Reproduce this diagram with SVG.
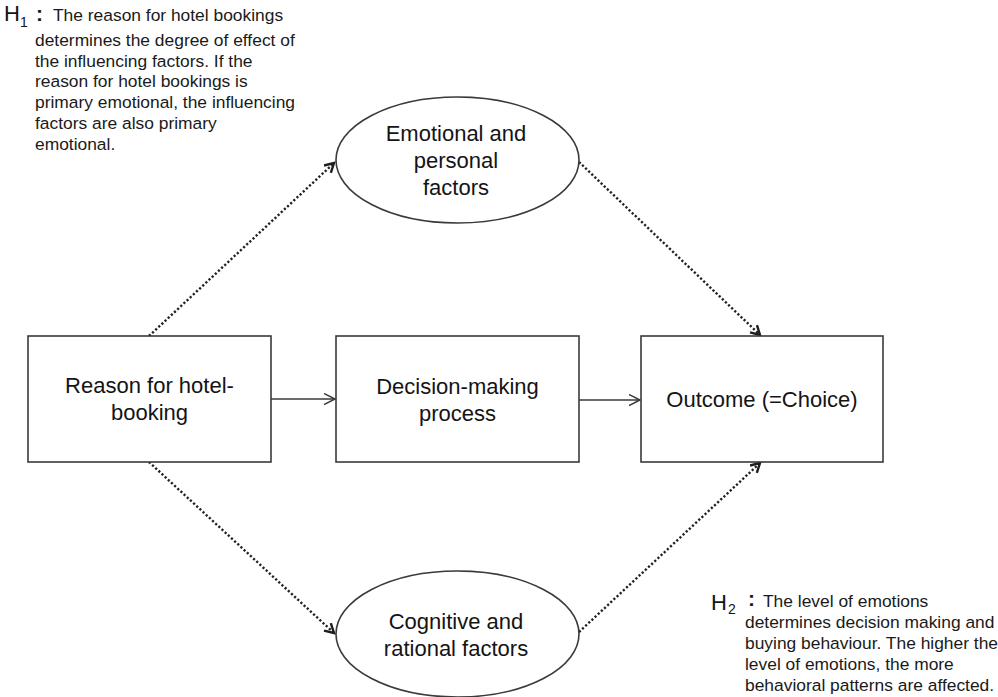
<svg xmlns="http://www.w3.org/2000/svg" width="998" height="697" viewBox="0 0 998 697">
  <defs>
    <style>
      .box { fill: #ffffff; stroke: #3a3a3a; stroke-width: 1.6; }
      .label { font-family: "Liberation Sans", Arial, sans-serif; font-size: 22px; fill: #141414; text-anchor: middle; }
      .note { font-family: "Liberation Sans", Arial, sans-serif; font-size: 17.4px; fill: #1a1a1a; }
      .hyp { font-family: "Liberation Sans", Arial, sans-serif; font-size: 22px; fill: #141414; }
      .sub { font-family: "Liberation Sans", Arial, sans-serif; font-size: 14px; fill: #141414; }
      .colon { font-family: "Liberation Sans", "Noto Sans CJK SC", sans-serif; font-size: 21px; font-weight: bold; fill: #141414; }
      .solid { fill: none; stroke: #3a3a3a; stroke-width: 1.5; marker-end: url(#chev); }
      .dotted { fill: none; stroke: #222222; stroke-width: 2.4; stroke-dasharray: 2.2 2.1; marker-end: url(#chevBold); }
    </style>
    <marker id="chev" markerUnits="userSpaceOnUse" markerWidth="14" markerHeight="14" refX="11" refY="6" orient="auto">
      <path d="M0,0.5 L11,6 L0,11.5" fill="none" stroke="#3a3a3a" stroke-width="1.5"/>
    </marker>
    <marker id="chevBold" markerUnits="userSpaceOnUse" markerWidth="14" markerHeight="14" refX="10" refY="6" orient="auto">
      <path d="M1,1 L10,6 L1,11" fill="none" stroke="#1e1e1e" stroke-width="2.4"/>
    </marker>
  </defs>

  <rect width="998" height="697" fill="#ffffff"/>

  <!-- connectors -->
  <g id="connectors">
    <line class="solid" x1="271" y1="399" x2="335" y2="399"/>
    <line class="solid" x1="579" y1="400" x2="640" y2="400"/>
    <line class="dotted" x1="149" y1="336" x2="334" y2="163"/>
    <line class="dotted" x1="579" y1="162" x2="760" y2="335"/>
    <line class="dotted" x1="149" y1="462" x2="334" y2="633"/>
    <line class="dotted" x1="579" y1="632" x2="760" y2="463"/>
  </g>

  <!-- boxes -->
  <g id="reason">
    <rect class="box" x="28" y="336" width="243" height="126"/>
    <text class="label" x="149.5" y="393">Reason for hotel-</text>
    <text class="label" x="149.5" y="420">booking</text>
  </g>
  <g id="decision">
    <rect class="box" x="336" y="336" width="243" height="126"/>
    <text class="label" x="457.5" y="394">Decision-making</text>
    <text class="label" x="457.5" y="421">process</text>
  </g>
  <g id="outcome">
    <rect class="box" x="641" y="336" width="242" height="126"/>
    <text class="label" x="762" y="407">Outcome (=Choice)</text>
  </g>

  <!-- ellipses -->
  <g id="emotional">
    <ellipse class="box" cx="457.5" cy="160" rx="121.5" ry="63"/>
    <text class="label" x="456" y="141">Emotional and</text>
    <text class="label" x="456" y="168">personal</text>
    <text class="label" x="456" y="195">factors</text>
  </g>
  <g id="cognitive">
    <ellipse class="box" cx="457.5" cy="634" rx="121.5" ry="63"/>
    <text class="label" x="456" y="629">Cognitive and</text>
    <text class="label" x="456" y="656">rational factors</text>
  </g>

  <!-- hypothesis 1 -->
  <g id="h1">
    <text class="hyp" x="4" y="21">H</text>
    <text class="sub" x="20" y="27">1</text>
    <text class="colon" x="36" y="21">:</text>
    <text class="note" x="53" y="21">The reason for hotel bookings</text>
    <text class="note" x="35" y="46">determines the degree of effect of</text>
    <text class="note" x="35" y="67">the influencing factors. If the</text>
    <text class="note" x="35" y="87">reason for hotel bookings is</text>
    <text class="note" x="35" y="108">primary emotional, the influencing</text>
    <text class="note" x="35" y="129">factors are also primary</text>
    <text class="note" x="35" y="150">emotional.</text>
  </g>

  <!-- hypothesis 2 -->
  <g id="h2">
    <text class="hyp" x="711" y="610">H</text>
    <text class="sub" x="728" y="614">2</text>
    <text class="colon" x="748" y="606">:</text>
    <text class="note" x="763" y="607">The level of emotions</text>
    <text class="note" x="745" y="628">determines decision making and</text>
    <text class="note" x="745" y="649">buying behaviour. The higher the</text>
    <text class="note" x="745" y="670">level of emotions, the more</text>
    <text class="note" x="745" y="691">behavioral patterns are affected.</text>
  </g>
</svg>
